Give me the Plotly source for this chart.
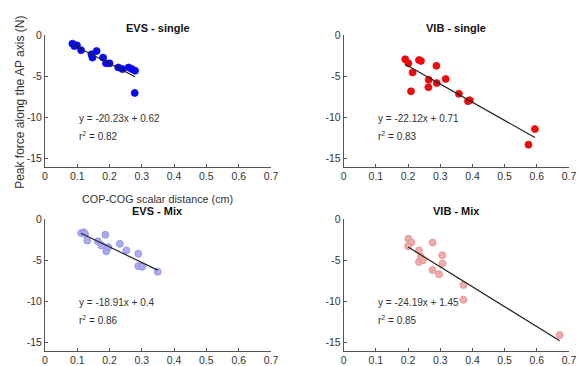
import plotly.graph_objects as go

W, H = 578, 366

# ---- data ----
evs_single_x = [0.085, 0.091, 0.099, 0.112, 0.144, 0.147, 0.160, 0.180, 0.189, 0.200, 0.227, 0.240, 0.259, 0.269, 0.279, 0.278]
evs_single_y = [-1.0, -1.3, -1.2, -1.8, -2.3, -2.7, -1.9, -2.7, -3.4, -3.4, -3.9, -4.1, -3.9, -4.1, -4.3, -7.0]
vib_single_x = [0.191, 0.201, 0.214, 0.209, 0.234, 0.240, 0.264, 0.263, 0.288, 0.289, 0.317, 0.358, 0.386, 0.392, 0.574, 0.594]
vib_single_y = [-2.9, -3.4, -4.5, -6.8, -3.0, -3.1, -5.4, -6.3, -3.7, -5.8, -5.3, -7.1, -8.0, -7.9, -13.3, -11.4]
evs_mix_x = [0.112, 0.120, 0.124, 0.131, 0.164, 0.175, 0.187, 0.190, 0.196, 0.232, 0.252, 0.289, 0.289, 0.301, 0.349]
evs_mix_y = [-1.7, -1.6, -1.8, -2.6, -2.7, -3.2, -1.9, -3.9, -3.4, -3.0, -3.8, -4.2, -5.7, -5.8, -6.4]
vib_mix_x = [0.201, 0.210, 0.200, 0.234, 0.240, 0.234, 0.246, 0.276, 0.276, 0.306, 0.307, 0.296, 0.372, 0.372, 0.671]
vib_mix_y = [-2.4, -2.85, -3.3, -3.8, -4.6, -5.2, -5.0, -2.85, -6.2, -4.4, -5.4, -6.7, -8.0, -9.8, -14.1]

slopes = [-20.23, -22.12, -18.91, -24.19]
intercepts = [0.62, 0.71, 0.4, 1.45]
r2 = [0.82, 0.83, 0.86, 0.85]
titles = ["EVS - single", "VIB - single", "EVS - Mix", "VIB - Mix"]
x_ticks = [0, 0.1, 0.2, 0.3, 0.4, 0.5, 0.6, 0.7]
y_ticks = [0, -5, -10, -15]

xs = [evs_single_x, vib_single_x, evs_mix_x, vib_mix_x]
ys = [evs_single_y, vib_single_y, evs_mix_y, vib_mix_y]
fills = ["#0a0aee", "#ee0a0a", "#ababf2", "#f2abab"]
edges = ["#0a0aee", "#ee0a0a", "#8f8fe0", "#dd8f8f"]

# panel pixel boxes (left, right, top, bottom)
boxes = [(42.7, 272.7, 30.0, 164.0), (346.7, 576.0, 30.0, 164.0),
         (42.7, 272.7, 217.3, 351.4), (346.7, 576.0, 217.3, 351.4)]

fig = go.Figure()
layout = {}
annotations = []
FONT = "Liberation Sans, Arial, sans-serif"
AX = "#555555"
TXT = "#333333"

for i in range(4):
    n = "" if i == 0 else str(i + 1)
    xa, ya = "x" + n, "y" + n
    l, r, t, b = boxes[i]
    fig.add_trace(go.Scatter(x=xs[i], y=ys[i], mode="markers", xaxis=xa, yaxis=ya,
                             marker=dict(size=7, color=fills[i], line=dict(color=edges[i], width=0.8)),
                             showlegend=False, cliponaxis=False))
    x0, x1 = min(xs[i]), max(xs[i])
    fig.add_trace(go.Scatter(x=[x0, x1], y=[slopes[i] * x0 + intercepts[i], slopes[i] * x1 + intercepts[i]],
                             mode="lines", xaxis=xa, yaxis=ya, line=dict(color="#222222", width=1.2),
                             showlegend=False))
    common = dict(showgrid=False, zeroline=False, showline=True, linecolor=AX, linewidth=1,
                  ticks="inside", ticklen=3, tickcolor=AX, mirror=False,
                  tickfont=dict(family=FONT, size=10.5, color=TXT), fixedrange=True)
    layout["xaxis" + n] = dict(domain=[l / W, r / W], anchor=ya, range=[0, 0.7],
                               tickvals=x_ticks, ticktext=[("%g" % v) for v in x_ticks], **common)
    layout["yaxis" + n] = dict(domain=[1 - b / H, 1 - t / H], anchor=xa, range=[-16, 0],
                               tickvals=y_ticks, ticktext=[("%g" % v) for v in y_ticks], **common)
    # title
    annotations.append(dict(x=(l + r) / 2 / W, y=1 - (t - 8) / H, xref="paper", yref="paper",
                            text="<b>" + titles[i] + "</b>", showarrow=False, xanchor="center", yanchor="middle",
                            font=dict(family=FONT, size=11, color="#111111")))
    sign = "+" if intercepts[i] >= 0 else "-"
    annotations.append(dict(x=0.098 if i in (0, 2) else 0.1, y=-10.1, xref=xa, yref=ya,
                            text="y = %g" % slopes[i] + "x " + sign + " %g" % abs(intercepts[i]),
                            showarrow=False, xanchor="left", yanchor="middle",
                            font=dict(family=FONT, size=10, color=TXT)))
    annotations.append(dict(x=0.098 if i in (0, 2) else 0.1, y=-12.3, xref=xa, yref=ya,
                            text="r<sup>2</sup> = %g" % r2[i],
                            showarrow=False, xanchor="left", yanchor="middle",
                            font=dict(family=FONT, size=10, color=TXT)))

annotations.append(dict(x=157.7 / W, y=1 - 197 / H, xref="paper", yref="paper",
                        text="COP-COG scalar distance (cm)", showarrow=False, xanchor="center", yanchor="middle",
                        font=dict(family=FONT, size=10.8, color=TXT)))
annotations.append(dict(x=17 / W, y=1 - 98 / H, xref="paper", yref="paper", textangle=-90,
                        text="Peak force along the AP axis (N)", showarrow=False, xanchor="center", yanchor="middle",
                        font=dict(family=FONT, size=12, color=TXT)))

fig.update_layout(width=W, height=H, autosize=False, margin=dict(l=0, r=0, t=0, b=0),
                  paper_bgcolor="white", plot_bgcolor="white", annotations=annotations, **layout)
fig.write_html("out.html")
